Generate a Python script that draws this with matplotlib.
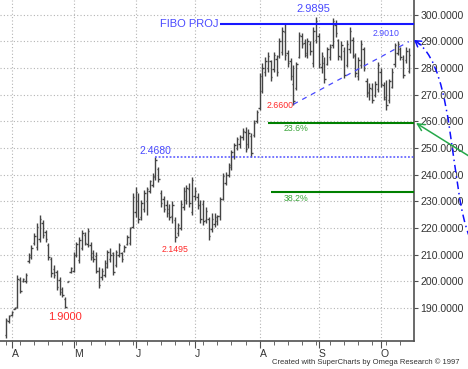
import numpy as np
import pandas as pd
import matplotlib
matplotlib.use('Agg')
import matplotlib.pyplot as plt
from matplotlib.path import Path
from matplotlib.patches import PathPatch

plt.rcParams['font.family'] = ['Liberation Sans', 'DejaVu Sans']

# ---------------- data ----------------
start_date = '1997-03-28'

highs = [
    186.2, 187.4, 189.0, 190.5, 202.4, 201.8, 201.2, 203.0, 210.5, 213.5,
    218.0, 221.8, 224.9, 223.0, 219.3, 214.3, 209.3, 206.1, 204.3, 201.8,
    198.0, 194.3, 200.2, 205.5, 211.1, 214.9, 216.8, 219.3, 218.6, 219.9,
    214.9, 211.8, 211.1, 205.5, 204.9, 208.0, 211.8, 212.4, 211.1, 211.8,
    214.3, 211.1, 213.6, 217.4, 220.5, 233.0, 235.5, 233.0, 230.5, 234.3,
    235.5, 238.0, 240.5, 246.8, 243.0, 234.3, 232.0, 230.5, 229.0, 230.0,
    224.3, 222.0, 230.5, 235.5, 236.0, 236.8, 239.3, 235.5, 233.0, 230.5,
    230.5, 228.0, 224.3, 225.5, 225.5, 225.0, 231.8, 240.5, 241.0, 244.3,
    249.3, 252.0, 254.3, 255.0, 257.4, 258.0, 257.0, 255.6, 260.5, 264.3,
    278.0, 281.8, 284.0, 286.0, 283.0, 286.0, 285.0, 291.1, 295.5, 296.8,
    286.8, 283.6, 281.1, 282.4, 293.6, 293.0, 291.0, 291.1, 290.0, 295.5,
    298.95, 293.0, 286.0, 284.3, 288.0, 289.0, 298.6, 298.0, 291.0, 290.0,
    288.0, 290.5, 295.5, 291.8, 285.5, 284.3, 290.5, 288.0, 276.1, 274.3,
    274.3, 275.0, 282.4, 280.0, 274.9, 275.5, 276.0, 279.9, 289.3, 290.1,
    288.0, 284.9, 288.0, 287.4,
]
lows = [
    178.6, 184.3, 187.0, 189.6, 189.9, 195.5, 199.6, 199.3, 206.8, 208.5,
    213.6, 211.8, 214.9, 216.2, 214.9, 208.0, 201.8, 201.2, 196.8, 194.9,
    194.3, 190.0, 199.6, 203.0, 203.6, 209.3, 206.8, 211.8, 213.6, 213.0,
    208.0, 207.4, 203.0, 197.4, 200.5, 201.8, 204.9, 207.4, 202.4, 205.5,
    209.3, 207.4, 211.1, 213.6, 213.6, 219.9, 224.3, 221.8, 223.0, 226.1,
    224.9, 233.0, 235.5, 238.0, 237.4, 228.0, 226.0, 224.3, 223.0, 222.0,
    214.95, 217.0, 219.3, 226.8, 229.0, 228.0, 224.9, 230.5, 227.0, 222.0,
    221.1, 221.8, 215.5, 218.6, 220.5, 221.0, 223.0, 230.5, 236.0, 239.3,
    241.8, 246.0, 249.3, 250.0, 253.0, 248.6, 250.0, 246.8, 254.3, 259.3,
    264.3, 270.5, 277.0, 278.6, 275.0, 278.6, 277.0, 283.6, 284.9, 283.0,
    280.5, 275.5, 266.0, 271.8, 283.6, 287.4, 284.0, 283.6, 285.0, 280.5,
    289.3, 279.9, 278.0, 274.3, 281.0, 283.0, 287.4, 291.8, 283.0, 283.0,
    276.1, 280.5, 285.5, 283.6, 276.8, 275.5, 280.0, 279.0, 269.3, 268.0,
    266.8, 269.0, 271.1, 273.0, 268.0, 264.3, 267.0, 272.4, 280.5, 284.9,
    283.0, 276.1, 282.0, 278.0,
]
opens = [
    180.0, 185.0, 187.5, 189.8, 190.5, 200.5, 200.0, 200.0, 207.5, 209.0,
    214.5, 213.0, 216.0, 222.0, 218.5, 213.5, 208.5, 204.5, 203.5, 200.5,
    197.0, 193.5, 199.8, 203.5, 204.0, 210.0, 208.0, 212.5, 217.5, 214.0,
    213.5, 210.5, 209.5, 204.0, 201.5, 202.5, 205.5, 208.5, 210.5, 206.0,
    210.0, 210.5, 211.5, 214.0, 214.5, 220.5, 226.0, 230.0, 224.0, 227.0,
    230.0, 234.0, 236.0, 239.0, 242.0, 233.0, 231.0, 228.5, 227.0, 224.5,
    223.0, 218.0, 220.0, 228.0, 230.5, 234.5, 226.0, 232.0, 231.5, 228.5,
    229.0, 223.0, 223.5, 219.5, 221.5, 222.5, 224.5, 231.0, 237.0, 240.0,
    243.0, 247.0, 250.0, 251.5, 254.0, 256.0, 251.5, 254.5, 255.0, 260.0,
    265.0, 271.5, 278.5, 280.0, 282.5, 279.5, 283.5, 284.5, 286.0, 293.5,
    285.5, 282.5, 274.0, 272.5, 284.0, 292.0, 289.5, 285.5, 289.0, 282.0,
    290.5, 292.0, 280.5, 282.0, 281.5, 284.0, 288.5, 296.0, 290.5, 284.0,
    286.5, 281.0, 287.0, 290.5, 284.5, 277.0, 281.0, 287.0, 275.0, 271.0,
    272.0, 270.0, 272.0, 278.5, 273.5, 268.5, 268.0, 273.0, 281.5, 285.5,
    287.0, 283.5, 283.0, 279.0,
]
closes = [
    185.5, 187.0, 188.5, 190.2, 201.0, 196.5, 200.8, 202.5, 209.8, 212.5,
    217.0, 220.5, 223.5, 217.5, 216.0, 209.0, 203.0, 202.5, 198.0, 196.0,
    195.0, 190.5, 200.0, 205.0, 210.0, 214.0, 215.5, 218.0, 214.5, 219.0,
    209.0, 208.5, 204.0, 198.5, 204.0, 207.0, 211.0, 210.0, 203.5, 211.0,
    213.5, 208.5, 213.0, 216.8, 220.0, 231.5, 233.5, 223.5, 229.5, 233.0,
    234.5, 237.5, 239.5, 245.5, 238.5, 229.5, 227.0, 225.5, 224.0, 228.5,
    216.5, 221.0, 229.0, 234.0, 235.0, 229.5, 238.0, 234.0, 228.5, 223.5,
    222.5, 226.5, 217.0, 223.5, 224.0, 224.5, 231.0, 239.5, 240.0, 243.5,
    248.5, 251.0, 253.5, 254.0, 256.5, 249.5, 255.5, 248.0, 259.5, 263.5,
    277.0, 280.0, 282.5, 284.5, 276.5, 285.0, 278.5, 290.0, 294.0, 285.0,
    282.0, 277.0, 267.5, 281.5, 292.5, 289.0, 285.0, 290.0, 286.5, 294.0,
    297.5, 281.5, 284.5, 276.0, 287.0, 288.0, 297.5, 293.0, 284.5, 288.5,
    277.5, 289.0, 294.0, 285.0, 278.0, 283.0, 289.0, 280.0, 270.5, 272.5,
    268.0, 274.0, 281.0, 274.0, 269.0, 266.0, 275.0, 278.5, 288.5, 289.0,
    284.0, 277.5, 286.5, 285.0,
]

y_ticks = [190, 200, 210, 220, 230, 240, 250, 260, 270, 280, 290, 300]

fibo_proj_level = 296.5
fib_236_level = 259.5
fib_382_level = 233.6
june_high = 246.8
trend_start = (102, 266.4)   # (bar, price) of the 2.6600 low
trend_end = (143, 289.9)     # near the 2.9010 high

# ---------------- figure ----------------
W, H = 468, 369
fig = plt.figure(figsize=(W / 100, H / 100), dpi=100)
fig.patch.set_facecolor('white')
ax = fig.add_axes([0, 1 - 341.3 / H, 413.7 / W, 341.3 / H])

n = len(highs)
idx = np.arange(n)
dates = pd.bdate_range(start_date, periods=n)
o = np.clip(opens, lows, highs)
c = np.clip(closes, lows, highs)

bar_c = '#444444'
ax.vlines(idx, lows, highs, color=bar_c, lw=1.0, zorder=3)
ax.hlines(o, idx - 0.5, idx, color=bar_c, lw=1.0, zorder=3)
ax.hlines(c, idx, idx + 0.5, color=bar_c, lw=1.0, zorder=3)

ax.set_xlim(-2.155, 144.7)
ax.set_ylim(177.54, 305.51)

# month ticks (first bar of each month) and weekly minor ticks
month_idx = [i for i in range(1, n) if dates[i].month != dates[i - 1].month]
month_lab = [dates[i].strftime('%b')[0] for i in month_idx]
week_idx = [i for i in range(n) if dates[i].dayofweek == 4 and i not in month_idx]
ax.set_xticks(month_idx)
ax.set_xticklabels(month_lab)
for lab in ax.get_xticklabels():
    lab.set_horizontalalignment('left')
ax.set_xticks(week_idx, minor=True)

ax.yaxis.tick_right()
ax.set_yticks(y_ticks)
ax.set_yticklabels([f'{v:.4f}' for v in y_ticks])

grid_kw = dict(color='#b4b4b4', lw=0.8, ls=(0, (1, 2)))
ax.grid(True, which='major', axis='both', **grid_kw)
ax.set_axisbelow(True)

for s in ['top', 'left']:
    ax.spines[s].set_visible(False)
for s in ['right', 'bottom']:
    ax.spines[s].set_color('#505050')
    ax.spines[s].set_linewidth(1.2)

ax.tick_params(axis='y', which='major', direction='out', length=3, pad=2,
               labelsize=7.6, colors='#505050', labelcolor='#333333')
ax.tick_params(axis='x', which='major', direction='out', length=5, pad=0.5,
               labelsize=7.5, colors='#505050', labelcolor='#333333')
ax.tick_params(axis='x', which='minor', direction='out', length=3,
               colors='#505050')

# ---------------- annotations ----------------
blue = '#1818ff'
lblue = '#4a4aff'
red = '#ff2a2a'
dgreen = '#008000'
lgreen = '#3aa43a'

ax.hlines(fibo_proj_level, 75.8, 144.7, color=blue, lw=1.5, zorder=4)
ax.text(75.3, fibo_proj_level, 'FIBO PROJ', color=lblue, fontsize=8,
        ha='right', va='center')
ax.text(109, 302.0, '2.9895', color=lblue, fontsize=8, ha='center', va='center')

ax.hlines(june_high, 52.9, 144.7, color='#5050ff', lw=1.1, ls=(0, (1.2, 1.2)), zorder=4)
ax.text(52.9, 249.0, '2.4680', color=lblue, fontsize=7.5, ha='center', va='center')

ax.hlines(fib_236_level, 93.0, 144.7, color=dgreen, lw=1.5, zorder=4)
ax.hlines(fib_382_level, 94.0, 144.7, color=dgreen, lw=1.5, zorder=4)
ax.text(103, 257.4, '23.6%', color=lgreen, fontsize=6.3, ha='center', va='center')
ax.text(103, 231.2, '38.2%', color=lgreen, fontsize=6.3, ha='center', va='center')

ax.plot([trend_start[0], trend_end[0]], [trend_start[1], trend_end[1]],
        color='#4848ff', lw=0.9, ls=(0, (4, 4)), zorder=4)
ax.text(135.0, 292.8, '2.9010', color=lblue, fontsize=6.3, ha='center', va='center')
ax.text(97.2, 265.8, '2.6600', color=red, fontsize=6.3, ha='center', va='center')
ax.text(60.0, 212.0, '2.1495', color=red, fontsize=6.3, ha='center', va='center')
ax.text(20.9, 186.5, '1.9000', color=red, fontsize=8, ha='center', va='center')


def fpx(x, y):
    return (x / W, 1 - y / H)


arc_path = Path([fpx(470, 238), fpx(450, 192), fpx(455, 70), fpx(418, 43)],
                [Path.MOVETO, Path.CURVE4, Path.CURVE4, Path.CURVE4])
fig.add_artist(PathPatch(arc_path, fill=False, edgecolor='#1010ff', lw=1.1,
                         ls=(0, (5, 2.5, 1, 2.5)), transform=fig.transFigure))
fig.add_artist(matplotlib.patches.FancyArrowPatch(
    fpx(421, 45), fpx(414, 40), arrowstyle='->,head_length=4,head_width=2.5',
    color='#1010ff', lw=1.1, transform=fig.transFigure, shrinkA=0, shrinkB=0))

fig.add_artist(matplotlib.patches.FancyArrowPatch(
    fpx(472, 158), fpx(416, 123), arrowstyle='->,head_length=5,head_width=2.5',
    color='#25a84a', lw=1.1, transform=fig.transFigure, shrinkA=0, shrinkB=0))

fig.text(366 / W, 1 - 362.5 / H,
         'Created with SuperCharts by Omega Research \u00a9 1997',
         fontsize=5.5, color='#333333', ha='center', va='center')

fig.savefig('out.png', dpi=100)
